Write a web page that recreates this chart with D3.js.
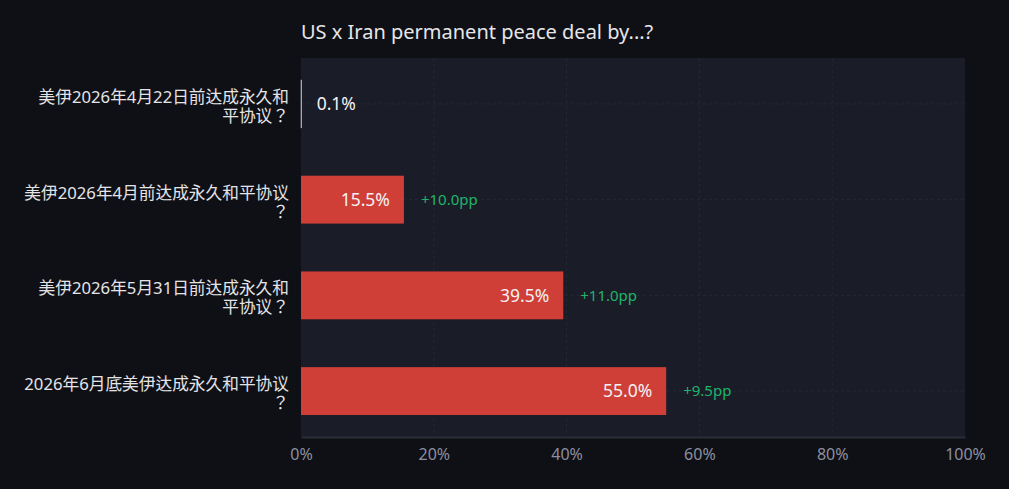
<!DOCTYPE html>
<html><head><meta charset="utf-8">
<script src="https://cdn.jsdelivr.net/npm/d3@7"></script>
<style>
html,body{margin:0;padding:0;background:#0f1015;}
svg{display:block;}
text{font-family:"Noto Sans","Noto Sans CJK JP",sans-serif;}
</style></head>
<body>
<svg id="chart" width="1009" height="489"></svg>
<script>
const title = "US x Iran permanent peace deal by...?";
// line breaks as shown on the chart's axis
const categories = [
  "美伊2026年4月22日前达成永久和\n平协议？",
  "美伊2026年4月前达成永久和平协议\n？",
  "美伊2026年5月31日前达成永久和\n平协议？",
  "2026年6月底美伊达成永久和平协议\n？"
];
const values = [0.1, 15.5, 39.5, 55.0];
const changes = [null, 10.0, 11.0, 9.5];
const xTicks = [0, 20, 40, 60, 80, 100];

const W = 1009, H = 489;
const m = {left: 301, right: 44, top: 58, bottom: 52};
const svg = d3.select("#chart");
const FF = '"Noto Sans","Noto Sans CJK JP",sans-serif';

const x = d3.scaleLinear().domain([0, 100]).range([m.left, W - m.right]);
const y = d3.scaleBand().domain(categories).range([m.top, H - m.bottom])
  .paddingInner(0.5).paddingOuter(0.23);

svg.append("rect").attr("x", m.left).attr("y", m.top)
  .attr("width", x(100) - x(0)).attr("height", H - m.bottom - m.top)
  .attr("fill", "#1a1c27");

svg.append("text").attr("x", m.left).attr("y", 39)
  .attr("fill", "#e6e6ea").attr("font-size", 20).text(title);

svg.append("g").selectAll("line").data(xTicks.slice(1, -1)).join("line")
  .attr("x1", d => x(d)).attr("x2", d => x(d))
  .attr("y1", m.top).attr("y2", H - m.bottom)
  .attr("stroke", "#252836").attr("stroke-dasharray", "3,3");

svg.append("g").selectAll("line").data(categories).join("line")
  .attr("x1", x(0)).attr("x2", x(100))
  .attr("y1", d => y(d) + y.bandwidth() / 2).attr("y2", d => y(d) + y.bandwidth() / 2)
  .attr("stroke", "#252836").attr("stroke-dasharray", "3,3");

const xAxis = svg.append("g").attr("transform", `translate(0,${H - m.bottom})`)
  .call(d3.axisBottom(x).tickValues(xTicks).tickFormat(d => d + "%").tickSize(0).tickPadding(12));
xAxis.select(".domain").attr("stroke", "#2b2d3a").attr("stroke-width", 2);
xAxis.selectAll("text").attr("fill", "#8c8fa0").attr("font-size", 16)
  .style("font-family", FF);

const rows = categories.map((c, i) => ({c, v: values[i], d: changes[i]}));
svg.append("g").selectAll("rect").data(rows).join("rect")
  .attr("x", x(0)).attr("y", d => y(d.c))
  .attr("width", d => x(d.v) - x(0)).attr("height", y.bandwidth())
  .attr("fill", d => d.v < 1 ? "#c9c9d0" : "#cf3f37")
  .attr("stroke", d => d.v < 1 ? "#b9b9c0" : "none")
  .attr("stroke-width", d => d.v < 1 ? 0.6 : 0);

svg.append("g").selectAll("text").data(rows).join("text")
  .attr("x", d => (x(d.v) - x(0)) > 60 ? x(d.v) - 14 : x(d.v) + 15)
  .attr("y", d => y(d.c) + y.bandwidth() / 2)
  .attr("dy", "0.36em")
  .attr("text-anchor", d => (x(d.v) - x(0)) > 60 ? "end" : "start")
  .attr("fill", "#f2f2f4").attr("font-size", 17.5)
  .text(d => d.v.toFixed(1) + "%");

svg.append("g").selectAll("text").data(rows.filter(d => d.d != null)).join("text")
  .attr("x", d => x(d.v) + 17)
  .attr("y", d => y(d.c) + y.bandwidth() / 2)
  .attr("dy", "0.36em")
  .attr("fill", "#1fb36b").attr("font-size", 15)
  .text(d => "+" + d.d.toFixed(1) + "pp");

const lh = 18.8;
rows.forEach(r => {
  const lines = r.c.split("\n");
  const cy = y(r.c) + y.bandwidth() / 2 + 2.5;
  lines.forEach((ln, i) => {
    svg.append("text").attr("text-anchor", "end")
      .attr("fill", "#e4e4e8").attr("font-size", 16.7)
      .attr("x", 289)
      .attr("y", cy + (i - (lines.length - 1) / 2) * lh)
      .attr("dy", "0.36em").text(ln);
  });
});
</script>
</body></html>
